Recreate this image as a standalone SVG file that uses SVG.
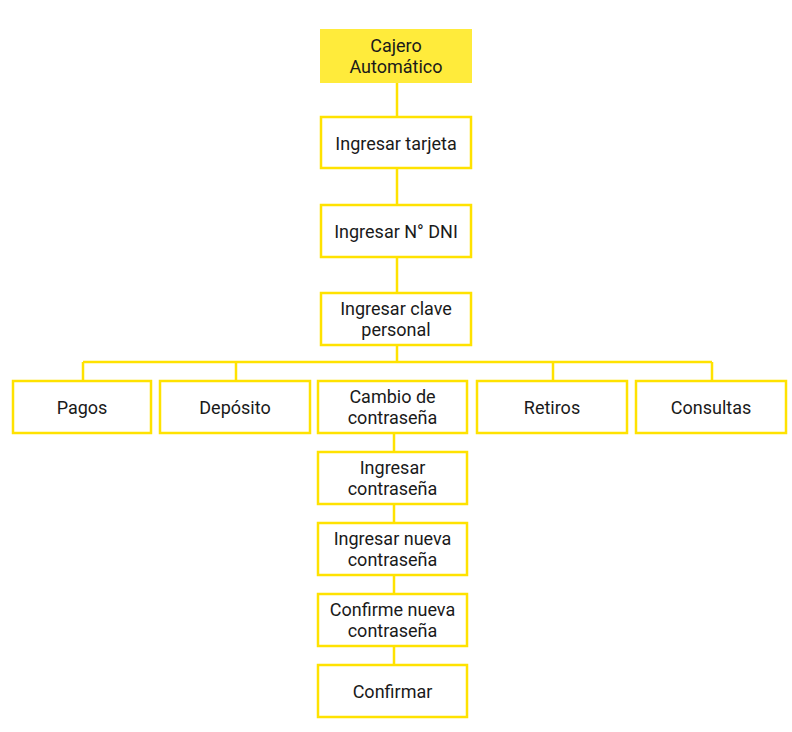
<svg xmlns="http://www.w3.org/2000/svg" width="792" height="732" viewBox="0 0 792 732">
<style>
.n{fill:#ffffff;stroke:#ffe200;stroke-width:2.5}
.top{fill:#ffeb3b;stroke:#ffeb3b;stroke-width:2}
.c{fill:none;stroke:#ffe200;stroke-width:2.5}
text{font-family:Roboto,"Liberation Sans",sans-serif;font-size:18px;fill:#1a1a1a;text-anchor:middle}
</style>
<rect width="792" height="732" fill="#ffffff"/>
<g id="connectors">
<path class="c" d="M397,83V117M397,168V205M397,257V293M397,345V362M83,362H712M83,362V381M236,362V381M553,362V381M712,362V381M394,433V452M394,504V523M394,575V594M394,646V665"/>
</g>
<g id="n-cajero"><rect class="top" x="321" y="30" width="150" height="52"/><text x="396" y="52">Cajero</text><text x="396" y="73">Automático</text></g>
<g id="n-tarjeta"><rect class="n" x="321" y="117" width="150" height="51"/><text x="396" y="150">Ingresar tarjeta</text></g>
<g id="n-dni"><rect class="n" x="321" y="205" width="150" height="52"/><text x="396" y="238">Ingresar N° DNI</text></g>
<g id="n-clave"><rect class="n" x="321" y="293" width="150" height="52"/><text x="396" y="315">Ingresar clave</text><text x="396" y="336">personal</text></g>
<g id="n-pagos"><rect class="n" x="13" y="381" width="138" height="52"/><text x="82" y="414">Pagos</text></g>
<g id="n-deposito"><rect class="n" x="160" y="381" width="150" height="52"/><text x="235" y="414">Depósito</text></g>
<g id="n-cambio"><rect class="n" x="318" y="381" width="149" height="52"/><text x="392.5" y="403">Cambio de</text><text x="392.5" y="424">contraseña</text></g>
<g id="n-retiros"><rect class="n" x="477" y="381" width="150" height="52"/><text x="552" y="414">Retiros</text></g>
<g id="n-consultas"><rect class="n" x="636" y="381" width="150" height="52"/><text x="711" y="414">Consultas</text></g>
<g id="n-ingcontra"><rect class="n" x="318" y="452" width="149" height="52"/><text x="392.5" y="474">Ingresar</text><text x="392.5" y="495">contraseña</text></g>
<g id="n-nueva"><rect class="n" x="318" y="523" width="149" height="52"/><text x="392.5" y="545">Ingresar nueva</text><text x="392.5" y="566">contraseña</text></g>
<g id="n-confirme"><rect class="n" x="318" y="594" width="149" height="52"/><text x="392.5" y="616">Confirme nueva</text><text x="392.5" y="637">contraseña</text></g>
<g id="n-confirmar"><rect class="n" x="318" y="665" width="149" height="52"/><text x="392.5" y="698">Confirmar</text></g>
</svg>
